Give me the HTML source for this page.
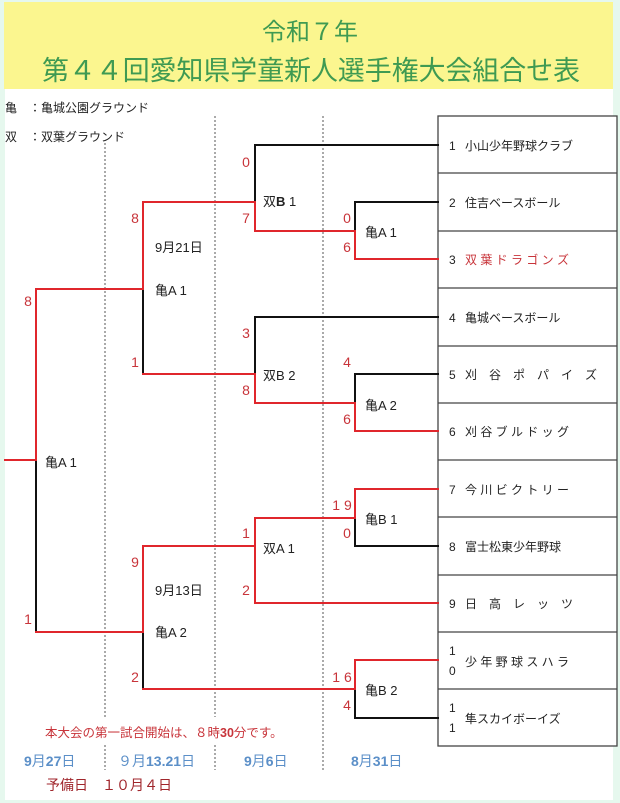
<!DOCTYPE html>
<html><head><meta charset="utf-8"><style>
html,body{margin:0;padding:0;background:#e6f8ee;}
svg{display:block;}
text{font-family:"Liberation Sans","Noto Sans CJK JP",sans-serif;}
</style></head><body>
<svg width="620" height="803" viewBox="0 0 620 803" xmlns="http://www.w3.org/2000/svg">
<rect x="0" y="0" width="620" height="803" fill="#e6f8ee"/>
<rect x="5" y="88" width="608" height="712" fill="#ffffff"/>
<rect x="4" y="2" width="609" height="87" fill="#fbf68f"/>
<text x="310" y="40" font-size="24" fill="#3f9a52" text-anchor="middle">令和７年</text>
<text x="42" y="80" font-size="27" fill="#3f9a52" textLength="538" lengthAdjust="spacingAndGlyphs">第４４回愛知県学童新人選手権大会組合せ表</text>
<g font-size="12" fill="#222">
<text x="5" y="112">亀　：亀城公園グラウンド</text>
<text x="5" y="141">双　：双葉グラウンド</text>
</g>
<g stroke="#555" stroke-width="1" stroke-dasharray="2,2">
<line x1="105" y1="143" x2="105" y2="717"/><line x1="105" y1="745" x2="105" y2="770"/>
<line x1="215" y1="116" x2="215" y2="717"/><line x1="215" y1="745" x2="215" y2="770"/>
<line x1="323" y1="116" x2="323" y2="770"/>
</g>
<g stroke="#444" stroke-width="1.3" fill="none">
<rect x="438" y="116" width="179" height="630" fill="#fff"/>
<line x1="438" y1="173" x2="617" y2="173"/><line x1="438" y1="231" x2="617" y2="231"/>
<line x1="438" y1="288" x2="617" y2="288"/><line x1="438" y1="346" x2="617" y2="346"/>
<line x1="438" y1="403" x2="617" y2="403"/><line x1="438" y1="460" x2="617" y2="460"/>
<line x1="438" y1="517" x2="617" y2="517"/><line x1="438" y1="575" x2="617" y2="575"/>
<line x1="438" y1="632" x2="617" y2="632"/><line x1="438" y1="689" x2="617" y2="689"/>
</g>
<g font-size="12" fill="#222">
<text x="449" y="150">1</text><text x="465" y="150">小山少年野球クラブ</text>
<text x="449" y="207">2</text><text x="465" y="207">住吉ベースボール</text>
<text x="449" y="264">3</text><text x="465" y="264" fill="#c8343a">双 葉 ド ラ ゴ ン ズ</text>
<text x="449" y="322">4</text><text x="465" y="322">亀城ベースボール</text>
<text x="449" y="379">5</text><text x="465" y="379">刈　谷　ポ　パ　イ　ズ</text>
<text x="449" y="436">6</text><text x="465" y="436">刈 谷 ブ ル ド ッ グ</text>
<text x="449" y="494">7</text><text x="465" y="494">今 川 ビ ク ト リ ー</text>
<text x="449" y="551">8</text><text x="465" y="551">富士松東少年野球</text>
<text x="449" y="608">9</text><text x="465" y="608">日　高　レ　ッ　ツ</text>
<text x="449" y="655">1</text><text x="449" y="675">0</text>
<text x="465" y="666">少 年 野 球 ス ハ ラ</text>
<text x="449" y="712">1</text><text x="449" y="732">1</text>
<text x="465" y="723">隼スカイボーイズ</text>
</g>
<g fill="none" stroke-width="2" stroke-linecap="square">
<g stroke="#111">
<polyline points="438,145 255,145 255,202"/>
<polyline points="438,202 355,202 355,231"/>
<polyline points="438,317 255,317 255,374"/>
<polyline points="438,374 355,374 355,403"/>
<line x1="143" y1="289" x2="143" y2="374"/>
<polyline points="438,546 355,546 355,518"/>
<polyline points="438,718 355,718 355,689"/>
<line x1="143" y1="632" x2="143" y2="689"/>
<line x1="36" y1="460" x2="36" y2="632"/>
</g>
<g stroke="#e0262c">
<polyline points="438,259 355,259 355,231 255,231 255,202 143,202 143,289 36,289 36,460 5,460"/>
<polyline points="438,431 355,431 355,403 255,403 255,374 143,374"/>
<polyline points="438,489 355,489 355,518 255,518 255,603 438,603"/>
<polyline points="255,546 143,546 143,632 36,632"/>
<polyline points="438,660 355,660 355,689 143,689"/>
</g>
</g>
<g font-size="14" fill="#c8343a" text-anchor="middle">
<text x="28" y="306">8</text><text x="28" y="624">1</text>
<text x="135" y="223">8</text><text x="135" y="367">1</text>
<text x="135" y="567">9</text><text x="135" y="682">2</text>
<text x="246" y="167">0</text><text x="246" y="223">7</text>
<text x="246" y="338">3</text><text x="246" y="395">8</text>
<text x="246" y="538">1</text><text x="246" y="595">2</text>
<text x="347" y="223">0</text><text x="347" y="252">6</text>
<text x="347" y="367">4</text><text x="347" y="424">6</text>
<text x="342" y="510">1 9</text><text x="347" y="538">0</text>
<text x="342" y="682">1 6</text><text x="347" y="710">4</text>
</g>
<g font-size="13" fill="#222">
<text x="263" y="206">双<tspan font-weight="bold">B</tspan> 1</text>
<text x="365" y="237">亀A 1</text>
<text x="263" y="380">双B 2</text>
<text x="365" y="410">亀A 2</text>
<text x="155" y="252">9月21日</text>
<text x="155" y="295">亀A 1</text>
<text x="45" y="467">亀A 1</text>
<text x="365" y="524">亀B 1</text>
<text x="263" y="553">双A 1</text>
<text x="155" y="595">9月13日</text>
<text x="155" y="637">亀A 2</text>
<text x="365" y="695">亀B 2</text>
</g>
<text x="45" y="737" font-size="12.5" fill="#c8343a">本大会の第一試合開始は、８時<tspan font-weight="bold">30</tspan>分です。</text>
<g font-size="14" fill="#5b8fc8">
<text x="24" y="766"><tspan font-weight="bold">9</tspan>月<tspan font-weight="bold">27</tspan>日</text>
<text x="118" y="766">９月<tspan font-weight="bold">13.21</tspan>日</text>
<text x="244" y="766"><tspan font-weight="bold">9</tspan>月<tspan font-weight="bold">6</tspan>日</text>
<text x="351" y="766"><tspan font-weight="bold">8</tspan>月<tspan font-weight="bold">31</tspan>日</text>
</g>
<text x="46" y="790" font-size="14" fill="#a0262c">予備日　１０月４日</text>
</svg>
</body></html>
